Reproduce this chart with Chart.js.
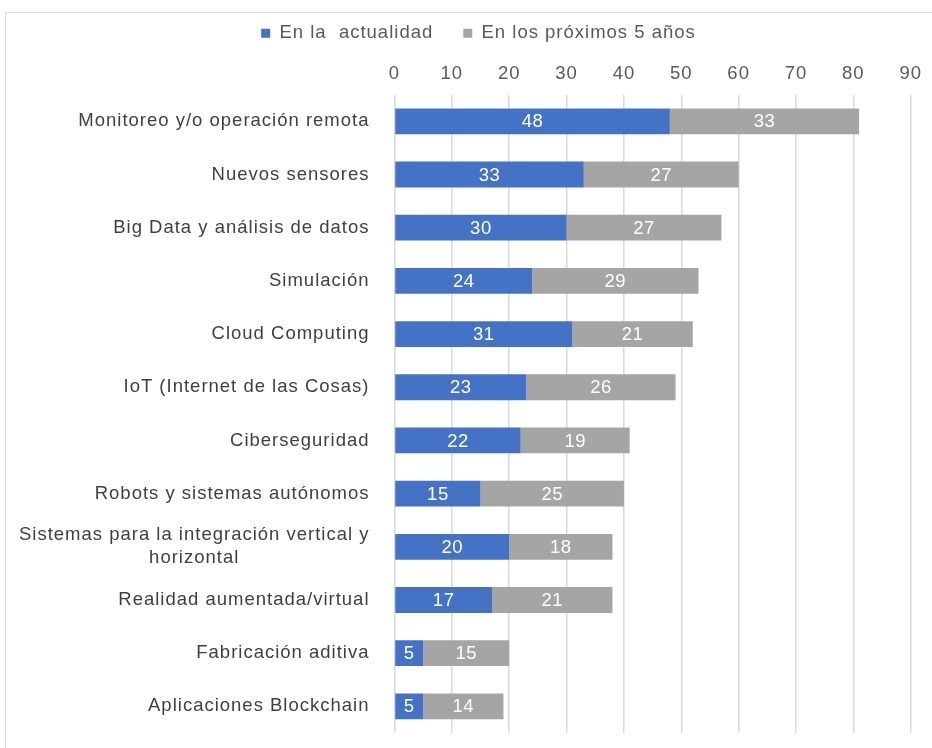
<!DOCTYPE html>
<html>
<head>
<meta charset="utf-8">
<script src="https://cdn.jsdelivr.net/npm/chart.js@4"></script>
<style>
  html, body { margin: 0; padding: 0; background: #fff; }
  #wrap { position: relative; width: 932px; height: 748px; overflow: hidden; }
  #frame { position: absolute; left: 5px; top: 12px; width: 1000px; height: 800px; border: 1px solid #d9d9d9; box-sizing: border-box; }
  canvas { position: absolute; left: 0; top: 0; }
</style>
</head>
<body>
<div id="wrap">
  <div id="frame"></div>
  <canvas id="c" width="932" height="748"></canvas>
</div>
<script>
const categories = [
  "Monitoreo y/o operación remota",
  "Nuevos sensores",
  "Big Data y análisis de datos",
  "Simulación",
  "Cloud Computing",
  "IoT (Internet de las Cosas)",
  "Ciberseguridad",
  "Robots y sistemas autónomos",
  ["Sistemas para la integración vertical y", "horizontal"],
  "Realidad aumentada/virtual",
  "Fabricación aditiva",
  "Aplicaciones Blockchain"
];
const actual = [48, 33, 30, 24, 31, 23, 22, 15, 20, 17, 5, 5];
const future = [33, 27, 27, 29, 21, 26, 19, 25, 18, 21, 15, 14];
const seriesNames = ["En la  actualidad", "En los próximos 5 años"];
const xTicks = [0, 10, 20, 30, 40, 50, 60, 70, 80, 90];

const FONT = "'Liberation Sans', Arial, sans-serif";
const SPACING = '1px';
const LABEL_SIZE = 18.5;
const LABEL_COLOR = '#404040';
const LABEL_GAP = 17;
const TICK_MARK = 8;

// Slightly open letter spacing for all chart text
const textSpacing = {
  id: 'textSpacing',
  beforeInit(chart) { chart.ctx.letterSpacing = SPACING; },
  beforeUpdate(chart) { chart.ctx.letterSpacing = SPACING; },
  beforeDraw(chart) { chart.ctx.letterSpacing = SPACING; },
  // nudge the legend row a little to the right of centre
  afterLayout(chart) {
    chart.legend.left += 10;
    chart.legend.right += 10;
  }
};

// Two-line category names: lines centred on each other, block flush right
const wrappedLabels = {
  id: 'wrappedLabels',
  afterDraw(chart) {
    const ctx = chart.ctx;
    const y = chart.scales.y;
    const right = chart.chartArea.left - LABEL_GAP - TICK_MARK;
    const lineH = 23;
    ctx.save();
    ctx.letterSpacing = SPACING;
    ctx.font = LABEL_SIZE + 'px ' + FONT;
    ctx.fillStyle = LABEL_COLOR;
    ctx.textAlign = 'center';
    ctx.textBaseline = 'middle';
    categories.forEach((c, i) => {
      if (!Array.isArray(c)) return;
      const w = Math.max(...c.map(s => ctx.measureText(s).width));
      const cx = right - w / 2;
      const cy = y.getPixelForTick(i);
      c.forEach((s, k) => {
        ctx.fillText(s, cx, cy + (k - (c.length - 1) / 2) * lineH);
      });
    });
    ctx.restore();
  }
};

// Writes each segment's value in white at the middle of its bar
const barValues = {
  id: 'barValues',
  afterDatasetsDraw(chart) {
    const ctx = chart.ctx;
    ctx.save();
    ctx.letterSpacing = '0.5px';
    ctx.fillStyle = '#ffffff';
    ctx.font = '18.5px ' + FONT;
    ctx.textAlign = 'center';
    ctx.textBaseline = 'middle';
    chart.data.datasets.forEach((ds, i) => {
      chart.getDatasetMeta(i).data.forEach((bar, j) => {
        const cx = (bar.x + bar.base) / 2;
        ctx.fillText(String(ds.data[j]), cx, bar.y + 1);
      });
    });
    ctx.restore();
  }
};

new Chart(document.getElementById('c'), {
  type: 'bar',
  data: {
    labels: categories,
    datasets: [
      { label: seriesNames[0], data: actual, backgroundColor: '#4472c4' },
      { label: seriesNames[1], data: future, backgroundColor: '#a5a5a5' }
    ]
  },
  options: {
    indexAxis: 'y',
    responsive: false,
    animation: false,
    devicePixelRatio: 1,
    layout: { padding: { left: 15, right: 10, top: -6, bottom: 15 } },
    datasets: { bar: { barPercentage: 0.485, categoryPercentage: 1.0 } },
    scales: {
      x: {
        position: 'top',
        stacked: true,
        min: 0,
        max: 90,
        afterBuildTicks(scale) { scale.ticks = xTicks.map(v => ({ value: v })); },
        grid: { color: '#d9d9d9', lineWidth: 1.5, drawTicks: false },
        border: { display: false },
        ticks: { color: '#595959', font: { family: FONT, size: 18.5 }, padding: 10 }
      },
      y: {
        stacked: true,
        grid: { display: false, tickLength: TICK_MARK },
        border: { display: false },
        afterFit(scale) {
          scale.width = 379.5;
          scale.paddingTop = 0;
          scale.paddingBottom = 0;
        },
        ticks: {
          color: LABEL_COLOR,
          font: { family: FONT, size: LABEL_SIZE },
          padding: LABEL_GAP,
          autoSkip: false,
          // wrapped names are laid out by the wrappedLabels plugin
          callback(value, index) {
            const c = categories[index];
            return Array.isArray(c) ? '' : c;
          }
        }
      }
    },
    plugins: {
      legend: {
        position: 'top',
        labels: {
          color: '#595959',
          font: { family: FONT, size: 18.5 },
          boxWidth: 9,
          boxHeight: 9,
          padding: 30
        }
      },
      tooltip: { enabled: false }
    }
  },
  plugins: [textSpacing, wrappedLabels, barValues]
});
</script>
</body>
</html>
